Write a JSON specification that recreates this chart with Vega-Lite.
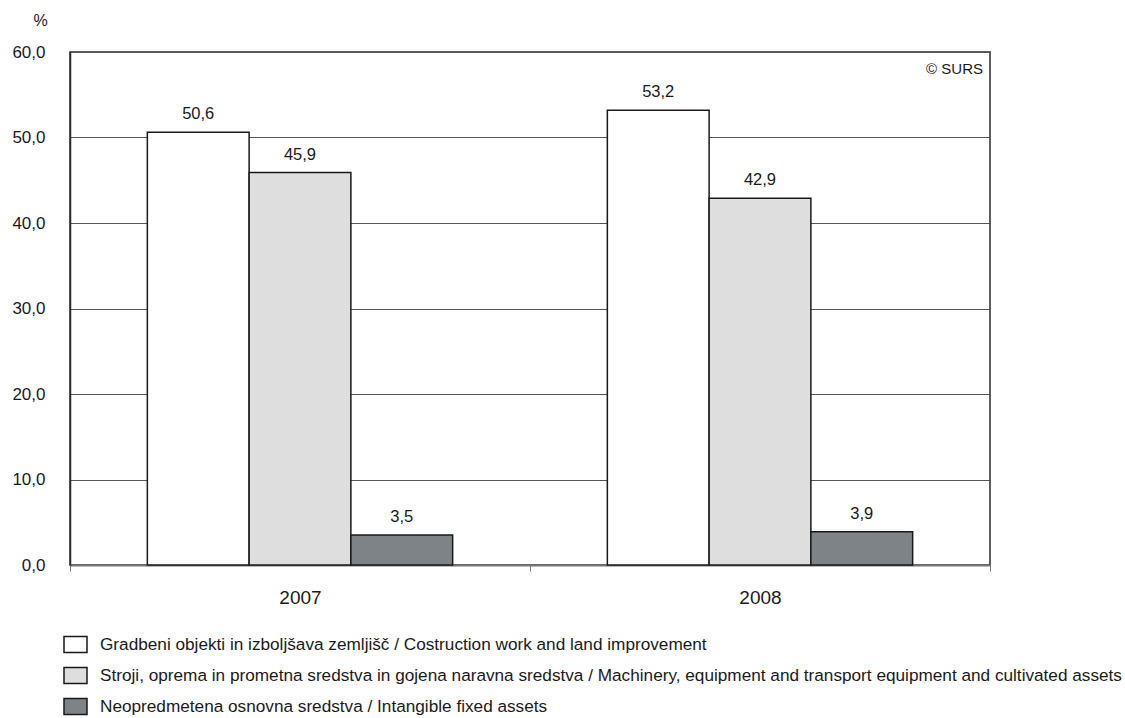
{
  "$schema": "https://vega.github.io/schema/vega-lite/v6.json",
  "width": 920,
  "height": 513,
  "autosize": {"type": "none"},
  "padding": {"left": 70, "top": 52, "right": 135, "bottom": 153},
  "background": "white",
  "config": {
    "locale": {"number": {"decimal": ",", "thousands": ".", "grouping": [3], "currency": ["", " €"]}},
    "font": "Liberation Sans",
    "view": {"stroke": "#2a2a2a", "strokeWidth": 1.5}
  },
  "title": {
    "text": "© SURS",
    "anchor": "end",
    "frame": "group",
    "orient": "top",
    "offset": -65,
    "dx": -7,
    "fontSize": 15,
    "fontWeight": "normal",
    "color": "#1a1a1a",
    "font": "Liberation Sans"
  },
  "data": {
    "values": [
      {"year": "2007", "series": "Gradbeni objekti in izboljšava zemljišč / Costruction work and land improvement", "value": 50.6},
      {"year": "2007", "series": "Stroji, oprema in prometna sredstva in gojena naravna sredstva / Machinery, equipment and transport equipment and cultivated assets", "value": 45.9},
      {"year": "2007", "series": "Neopredmetena osnovna sredstva / Intangible fixed assets", "value": 3.5},
      {"year": "2008", "series": "Gradbeni objekti in izboljšava zemljišč / Costruction work and land improvement", "value": 53.2},
      {"year": "2008", "series": "Stroji, oprema in prometna sredstva in gojena naravna sredstva / Machinery, equipment and transport equipment and cultivated assets", "value": 42.9},
      {"year": "2008", "series": "Neopredmetena osnovna sredstva / Intangible fixed assets", "value": 3.9}
    ]
  },
  "encoding": {
    "x": {
      "field": "year", "type": "nominal",
      "scale": {"paddingInner": 0, "paddingOuter": 0},
      "axis": {
        "title": null, "labelAngle": 0, "labelFontSize": 19, "labelColor": "#1a1a1a",
        "labelPadding": 17, "tickBand": "extent", "tickColor": "#777", "tickSize": 6,
        "domainColor": "#777", "domainWidth": 2, "grid": false
      }
    },
    "xOffset": {
      "field": "series", "type": "nominal",
      "sort": [
        "Gradbeni objekti in izboljšava zemljišč / Costruction work and land improvement",
        "Stroji, oprema in prometna sredstva in gojena naravna sredstva / Machinery, equipment and transport equipment and cultivated assets",
        "Neopredmetena osnovna sredstva / Intangible fixed assets"
      ],
      "scale": {"paddingInner": 0, "paddingOuter": 0.76}
    },
    "y": {
      "field": "value", "type": "quantitative",
      "scale": {"domain": [0, 60], "nice": false},
      "axis": {
        "values": [0, 10, 20, 30, 40, 50, 60], "format": ".1f",
        "title": "%", "titleAngle": 0, "titleX": -30, "titleY": -24, "titleAlign": "center",
        "titleFontSize": 16, "titleFontWeight": "normal", "titleColor": "#1a1a1a",
        "labelFontSize": 17, "labelColor": "#1a1a1a", "labelPadding": 25,
        "ticks": false, "domainColor": "#2a2a2a", "domainWidth": 1.5,
        "grid": true, "gridColor": "#555", "gridWidth": 1
      }
    }
  },
  "layer": [
    {
      "mark": {"type": "bar", "stroke": "#1a1a1a", "strokeWidth": 1.5},
      "encoding": {
        "fill": {
          "field": "series", "type": "nominal",
          "scale": {
            "domain": [
              "Gradbeni objekti in izboljšava zemljišč / Costruction work and land improvement",
              "Stroji, oprema in prometna sredstva in gojena naravna sredstva / Machinery, equipment and transport equipment and cultivated assets",
              "Neopredmetena osnovna sredstva / Intangible fixed assets"
            ],
            "range": ["#ffffff", "#dedede", "#7d8386"]
          },
          "legend": {
            "title": null, "orient": "none", "legendX": -7, "legendY": 580,
            "direction": "vertical", "labelFontSize": 17.2, "labelColor": "#1a1a1a",
            "labelLimit": 0, "rowPadding": 7, "labelOffset": 12,
            "symbolType": "M -1 -0.7 L 1 -0.7 L 1 0.7 L -1 0.7 Z",
            "symbolSize": 529, "symbolStrokeColor": "#1a1a1a", "symbolStrokeWidth": 1.5,
            "symbolOpacity": 1, "symbolFillColor": null
          }
        }
      }
    },
    {
      "mark": {"type": "text", "baseline": "alphabetic", "dy": -13, "fontSize": 16.5, "color": "#1a1a1a"},
      "encoding": {
        "text": {"field": "value", "type": "quantitative", "format": ".1f"}
      }
    }
  ]
}
